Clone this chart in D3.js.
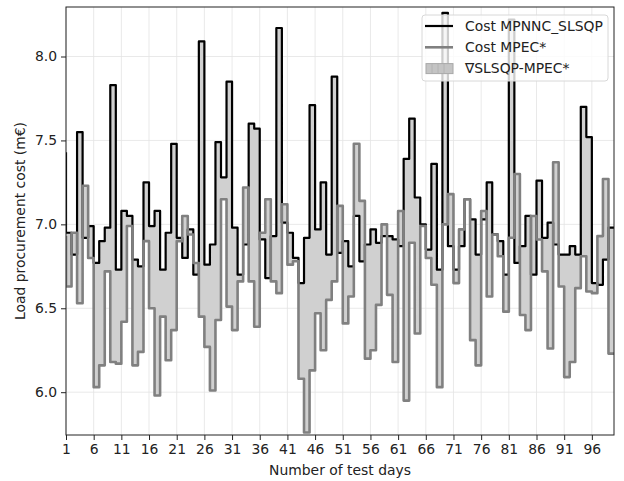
<!DOCTYPE html>
<html>
<head>
<meta charset="utf-8">
<script src="https://cdn.jsdelivr.net/npm/d3@7"></script>
<style>
  body { margin: 0; background: #fff; }
  text { font-family: "DejaVu Sans", sans-serif; }
</style>
</head>
<body>
<div id="chart"></div>
<script>
// day index 1..100
const days = d3.range(1, 101);

// Cost MPNNC_SLSQP (m€), one value per test day
const costSLSQP = [
  7.43, 6.95, 6.82, 7.55, 6.92, 6.99, 6.77, 6.90, 6.98, 7.83,
  6.73, 7.08, 7.05, 6.79, 6.75, 7.25, 6.99, 7.08, 6.73, 6.95,
  7.48, 6.92, 6.80, 6.97, 6.70, 8.09, 6.76, 6.88, 7.49, 7.28,
  7.85, 6.98, 6.70, 6.88, 7.60, 7.57, 6.91, 6.68, 6.93, 8.17,
  7.01, 6.95, 6.80, 6.65, 6.92, 7.71, 6.97, 7.25, 6.82, 7.88,
  6.83, 6.90, 6.75, 7.05, 6.78, 6.88, 6.97, 6.89, 6.93, 6.93,
  6.91, 6.87, 7.39, 7.63, 7.16, 7.00, 6.85, 7.36, 6.73, 8.26,
  6.87, 6.73, 6.87, 7.15, 7.03, 6.82, 7.03, 7.25, 6.94, 6.90,
  6.70, 8.22, 6.77, 6.87, 7.05, 6.70, 7.26, 6.92, 7.01, 6.88,
  6.82, 6.82, 6.87, 6.82, 7.70, 7.52, 6.65, 6.64, 6.79, 6.98
];

// Cost MPEC* (m€)
const costMPEC = [
  6.93, 6.63, 6.95, 6.53, 7.23, 6.80, 6.03, 6.16, 6.72, 6.18,
  6.17, 6.42, 6.99, 6.16, 6.24, 6.90, 6.50, 5.98, 6.45, 6.19,
  6.37, 6.90, 7.05, 6.94, 6.77, 6.45, 6.27, 6.01, 6.43, 7.15,
  6.51, 6.37, 6.66, 7.22, 6.66, 6.39, 6.95, 7.15, 6.66, 6.59,
  7.12, 6.76, 6.78, 6.08, 5.76, 6.13, 6.47, 6.25, 6.55, 6.66,
  7.11, 6.41, 6.57, 7.48, 7.14, 6.20, 6.25, 6.52, 7.00, 6.58,
  6.18, 7.08, 5.95, 6.89, 6.35, 6.99, 6.80, 6.64, 6.03, 7.00,
  7.18, 6.65, 6.97, 7.15, 6.31, 6.16, 7.08, 6.57, 6.94, 6.81,
  6.48, 6.92, 7.30, 6.46, 6.37, 7.05, 6.91, 6.72, 6.26, 7.37,
  6.63, 6.09, 6.18, 6.62, 6.81, 6.60, 6.59, 6.93, 7.27, 6.23
];

const xTicks = [1, 6, 11, 16, 21, 26, 31, 36, 41, 46, 51, 56, 61, 66, 71, 76, 81, 86, 91, 96];
const yTicks = [6.0, 6.5, 7.0, 7.5, 8.0];
const legendLabels = ["Cost MPNNC_SLSQP", "Cost MPEC*", "\u2207SLSQP-MPEC*"];

const width = 624;
const height = 481;
const margin = { left: 66, right: 10, top: 7, bottom: 46 };
const fontSize = 13.9;

const svg = d3.select("#chart").append("svg")
  .attr("width", width)
  .attr("height", height);

const x = d3.scaleLinear()
  .domain([1, 100])
  .range([margin.left, width - margin.right]);

const y = d3.scaleLinear()
  .domain([5.745, 8.295])
  .range([height - margin.bottom, margin.top]);

const rows = days.map((d, i) => ({ day: d, a: costSLSQP[i], b: costMPEC[i] }));

svg.append("clipPath").attr("id", "plotClip")
  .append("rect")
  .attr("x", margin.left).attr("y", margin.top)
  .attr("width", x.range()[1] - margin.left)
  .attr("height", y.range()[0] - margin.top);

// grid
const grid = svg.append("g");
grid.selectAll(".vg").data(xTicks).enter().append("line")
  .attr("x1", d => x(d)).attr("x2", d => x(d))
  .attr("y1", y.range()[1]).attr("y2", y.range()[0])
  .attr("stroke", "#e3e3e3").attr("stroke-width", 0.8);
grid.selectAll(".hg").data(yTicks).enter().append("line")
  .attr("x1", x.range()[0]).attr("x2", x.range()[1])
  .attr("y1", d => y(d)).attr("y2", d => y(d))
  .attr("stroke", "#e3e3e3").attr("stroke-width", 0.8);

const plot = svg.append("g").attr("clip-path", "url(#plotClip)");

const area = d3.area()
  .curve(d3.curveStepBefore)
  .x(d => x(d.day))
  .y0(d => y(d.b))
  .y1(d => y(d.a));

plot.append("path")
  .datum(rows)
  .attr("d", area)
  .attr("fill", "#d0d0d0")
  .attr("stroke", "none");

const lineA = d3.line().curve(d3.curveStepBefore).x(d => x(d.day)).y(d => y(d.a));
const lineB = d3.line().curve(d3.curveStepBefore).x(d => x(d.day)).y(d => y(d.b));

plot.append("path")
  .datum(rows)
  .attr("d", lineA)
  .attr("fill", "none")
  .attr("stroke", "#000")
  .attr("stroke-width", 2.2)
  .attr("stroke-linejoin", "round");

plot.append("path")
  .datum(rows)
  .attr("d", lineB)
  .attr("fill", "none")
  .attr("stroke", "#808080")
  .attr("stroke-width", 2.6)
  .attr("stroke-linejoin", "round");

// axes
const xAxis = svg.append("g")
  .attr("transform", `translate(0,${y.range()[0]})`)
  .call(d3.axisBottom(x).tickValues(xTicks).tickSize(5).tickPadding(4).tickFormat(d3.format("d")));
const yAxis = svg.append("g")
  .attr("transform", `translate(${x.range()[0]},0)`)
  .call(d3.axisLeft(y).tickValues(yTicks).tickSize(5).tickPadding(4).tickFormat(d3.format(".1f")));

[xAxis, yAxis].forEach(g => {
  g.select(".domain").remove();
  g.selectAll(".tick line").attr("stroke", "#222").attr("stroke-width", 1);
  g.selectAll(".tick text").attr("fill", "#222").style("font-size", fontSize + "px")
    .style("font-family", "'DejaVu Sans', sans-serif");
});

// frame
svg.append("rect")
  .attr("x", x.range()[0]).attr("y", y.range()[1])
  .attr("width", x.range()[1] - x.range()[0])
  .attr("height", y.range()[0] - y.range()[1])
  .attr("fill", "none").attr("stroke", "#222").attr("stroke-width", 1);

svg.append("text")
  .attr("x", (x.range()[0] + x.range()[1]) / 2)
  .attr("y", 475)
  .attr("text-anchor", "middle")
  .attr("fill", "#222")
  .style("font-size", fontSize + "px")
  .text("Number of test days");

svg.append("text")
  .attr("transform", `translate(25,${(y.range()[0] + y.range()[1]) / 2}) rotate(-90)`)
  .attr("text-anchor", "middle")
  .attr("fill", "#222")
  .style("font-size", fontSize + "px")
  .text("Load procurement cost (m\u20ac)");

// legend
const lg = svg.append("g").attr("transform", "translate(422,15)");
lg.append("rect")
  .attr("width", 186).attr("height", 66).attr("rx", 3)
  .attr("fill", "#fff").attr("fill-opacity", 0.8)
  .attr("stroke", "#d8d8d8").attr("stroke-width", 1);

legendLabels.forEach((label, i) => {
  const cy = 11 + i * 21.3;
  if (i < 2) {
    lg.append("line")
      .attr("x1", 3).attr("x2", 31).attr("y1", cy).attr("y2", cy)
      .attr("stroke", i === 0 ? "#000" : "#808080")
      .attr("stroke-width", i === 0 ? 2.2 : 2.6);
  } else {
    lg.append("rect")
      .attr("x", 4).attr("y", cy - 5).attr("width", 27).attr("height", 10)
      .attr("fill", "#c4c4c4").attr("stroke", "#a8a8a8").attr("stroke-width", 1);
    [10, 16, 22].forEach(px => lg.append("line")
      .attr("x1", px).attr("x2", px).attr("y1", cy - 5).attr("y2", cy + 5)
      .attr("stroke", "#b0b0b0").attr("stroke-width", 0.8));
  }
  lg.append("text")
    .attr("x", 43).attr("y", cy)
    .attr("dy", "0.35em")
    .attr("fill", "#222")
    .style("font-size", fontSize + "px")
    .text(label);
});
</script>
</body>
</html>
